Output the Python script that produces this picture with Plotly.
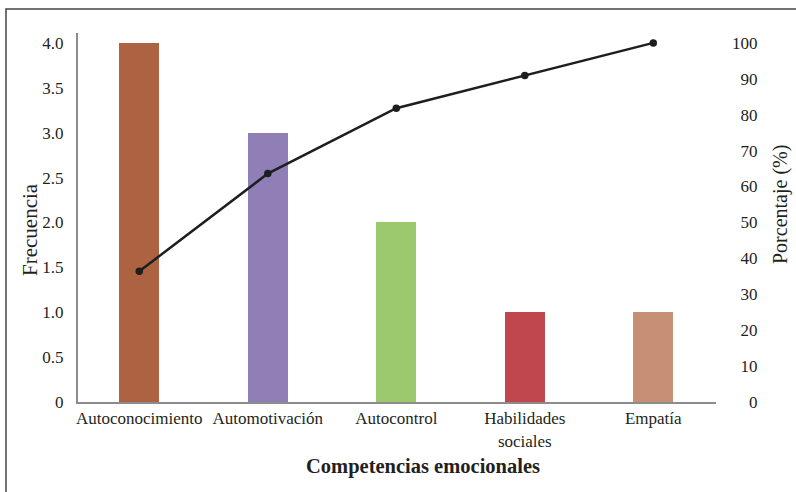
import plotly.graph_objects as go

# Pareto data: frequency per emotional competence and cumulative percentage
categories = ["Autoconocimiento", "Automotivación", "Autocontrol", "Habilidades<br>sociales", "Empatía"]
frecuencia = [4, 3, 2, 1, 1]
bar_colors = ["#AD6341", "#8F7FB6", "#9CC86E", "#BF474D", "#C79075"]

total = sum(frecuencia)
acumulado = []
running = 0
for f in frecuencia:
    running += f
    acumulado.append(round(100 * running / total, 1))

left_tickvals = [0, 0.5, 1.0, 1.5, 2.0, 2.5, 3.0, 3.5, 4.0]
left_ticktext = ["0", "0.5", "1.0", "1.5", "2.0", "2.5", "3.0", "3.5", "4.0"]
right_tickvals = [0, 10, 20, 30, 40, 50, 60, 70, 80, 90, 100]

NB = "\u00a0\u00a0"  # two no-break spaces ~ one digit width, keeps labels right-aligned
right_ticktext = [NB * (3 - len(str(v))) + str(v) for v in right_tickvals]

FONT = "Liberation Serif"
TXT = "#231F20"
AXIS = "#8C8C8C"

W, H = 796, 492
L, R, T, B = 78, 80, 33, 90
pw, ph = W - L - R, H - T - B


def px_x(px):
    return (px - L) / pw


def px_y(py):
    return (H - B - py) / ph


fig = go.Figure()
fig.add_trace(go.Bar(
    x=categories, y=frecuencia, marker=dict(color=bar_colors, line=dict(width=0)),
    width=0.311, yaxis="y", showlegend=False,
))
fig.add_trace(go.Scatter(
    x=categories, y=acumulado, yaxis="y2", mode="lines+markers",
    line=dict(color="#1E1E1E", width=2.5), marker=dict(color="#1E1E1E", size=7.5),
    showlegend=False,
))

ymax = 4.11
fig.update_layout(
    width=W, height=H,
    margin=dict(l=L, r=R, t=T, b=B),
    paper_bgcolor="white", plot_bgcolor="white",
    font=dict(family=FONT, color=TXT, size=17),
    xaxis=dict(
        range=[-0.477, 4.488],
        showline=True, linecolor=AXIS, linewidth=2, showgrid=False, ticks="",
        tickfont=dict(size=17, family=FONT, color=TXT), ticklabelstandoff=0,
    ),
    yaxis=dict(
        range=[0, ymax], tickvals=left_tickvals, ticktext=left_ticktext,
        showline=True, linecolor=AXIS, linewidth=2, showgrid=False, ticks="",
        zeroline=False, tickfont=dict(size=17, family=FONT, color=TXT),
        ticklabelstandoff=9,
    ),
    yaxis2=dict(
        range=[0, ymax * 25], tickvals=right_tickvals, ticktext=right_ticktext,
        overlaying="y", side="right", showline=False, showgrid=False, ticks="",
        zeroline=False, tickfont=dict(size=17, family=FONT, color=TXT),
        ticklabelstandoff=15,
    ),
    bargap=0,
)

# Axis titles
fig.add_annotation(
    text="<b>Competencias emocionales</b>", xref="paper", yref="paper",
    x=px_x(423), y=px_y(466), xanchor="center", yanchor="middle",
    showarrow=False, font=dict(size=20.5, family=FONT, color=TXT),
)
fig.add_annotation(
    text="Frecuencia", xref="paper", yref="paper", textangle=-90,
    x=px_x(30), y=px_y(230), xanchor="center", yanchor="middle",
    showarrow=False, font=dict(size=21, family=FONT, color=TXT),
)
fig.add_annotation(
    text="Porcentaje (%)", xref="paper", yref="paper", textangle=-90,
    x=px_x(780), y=px_y(205), xanchor="center", yanchor="middle",
    showarrow=False, font=dict(size=20, family=FONT, color=TXT),
)

# Outer frame
fig.add_shape(
    type="rect", xref="paper", yref="paper",
    x0=px_x(6), x1=px_x(W + 10),
    y0=px_y(H + 10), y1=px_y(9),
    line=dict(color="#444444", width=1.5), fillcolor="rgba(0,0,0,0)", layer="above",
)

fig.write_html("out.html")
